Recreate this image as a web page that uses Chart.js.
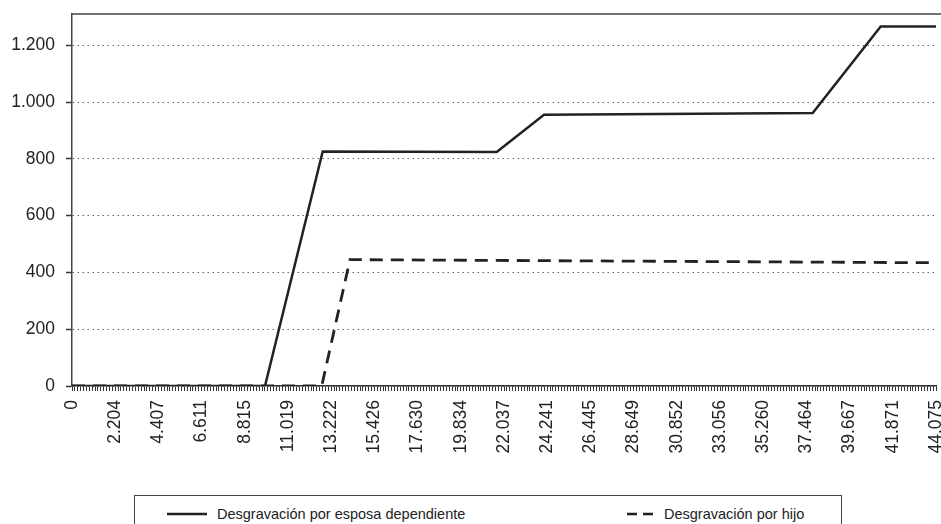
<!DOCTYPE html>
<html lang="es">
<head>
<meta charset="utf-8">
<title>Desgravaciones</title>
<script src="https://cdn.jsdelivr.net/npm/chart.js@4.4.1/dist/chart.umd.min.js"></script>
<style>
    html, body { margin: 0; padding: 0; background: #fff; overflow: hidden; }
    body { width: 941px; height: 524px; position: relative; font-family: "Liberation Sans", Arial, sans-serif; color: #222; }
    #contenedor { position: absolute; left: 0; top: 0; width: 941px; height: 470px; }
    #leyenda { position: absolute; left: 134px; top: 495px; width: 708px; height: 40px; border: 1px solid #444; box-sizing: border-box; }
    .item { position: absolute; top: 9px; display: flex; align-items: center; font-size: 14.5px; line-height: 18px; white-space: nowrap; }
    .item svg { margin-right: 10px; }
</style>
</head>
<body>
<div id="contenedor"><canvas id="grafico"></canvas></div>
<div id="leyenda"></div>

<script>
// ── Datos ──
const etiquetasSeries = ['Desgravación por esposa dependiente', 'Desgravación por hijo'];

// Desgravación por esposa dependiente
const xEsposa = [0, 9845, 12789, 21665, 24078, 37785, 41254, 44075];
const yEsposa = [0, 0, 826, 824, 955, 961, 1266, 1266];

// Desgravación por hijo
const xHijo = [0, 12738, 14181, 44075];
const yHijo = [0, 0, 445, 434];

// Ejes
const xMax = 44075;
const xMarcas = 300;          // marcas menores del eje X
const xCadaEtiqueta = 15;     // una etiqueta cada 15 marcas
const xEtiquetas = ['0', '2.204', '4.407', '6.611', '8.815', '11.019', '13.222', '15.426', '17.630', '19.834',
    '22.037', '24.241', '26.445', '28.649', '30.852', '33.056', '35.260', '37.464', '39.667', '41.871', '44.075'];
const yValores = [0, 200, 400, 600, 800, 1000, 1200];
const yEtiquetas = ['0', '200', '400', '600', '800', '1.000', '1.200'];
const yMax = 1310;

const FUENTE = { family: '"Liberation Sans", Arial, sans-serif', size: 17.5 };
const NEGRO = '#222';

function puntos(xs, ys) {
    return xs.map((x, i) => ({ x, y: ys[i] }));
}

// ── Línea superior del marco ──
const bordeSuperior = {
    id: 'bordeSuperior',
    afterDraw(chart) {
        const { ctx, chartArea } = chart;
        ctx.save();
        ctx.strokeStyle = '#444';
        ctx.lineWidth = 1.5;
        ctx.beginPath();
        ctx.moveTo(chartArea.left, chartArea.top);
        ctx.lineTo(chart.width, chartArea.top);
        ctx.stroke();
        ctx.restore();
    },
};

new Chart(document.getElementById('grafico').getContext('2d'), {
    type: 'line',
    data: {
        datasets: [
            {
                label: etiquetasSeries[0],
                data: puntos(xEsposa, yEsposa),
                borderColor: NEGRO,
                borderWidth: 2.5,
                pointRadius: 0,
                tension: 0,
            },
            {
                label: etiquetasSeries[1],
                data: puntos(xHijo, yHijo),
                borderColor: NEGRO,
                borderWidth: 2.8,
                borderDash: [13, 8],
                pointRadius: 0,
                tension: 0,
            },
        ],
    },
    options: {
        responsive: true,
        maintainAspectRatio: false,
        animation: false,
        devicePixelRatio: 1,
        layout: { padding: { top: 14, right: 5, left: 0, bottom: 0 } },
        plugins: { legend: { display: false }, tooltip: { enabled: false } },
        scales: {
            x: {
                type: 'linear',
                min: 0,
                max: xMax,
                afterBuildTicks(scale) {
                    scale.ticks = Array.from({ length: xMarcas + 1 }, (_, i) => ({ value: i * xMax / xMarcas }));
                },
                afterFit(scale) {
                    scale.paddingLeft = 0;
                    scale.paddingRight = 0;
                    scale.height = 84;
                },
                ticks: {
                    autoSkip: false,
                    minRotation: 90,
                    maxRotation: 90,
                    padding: 9,
                    color: NEGRO,
                    font: FUENTE,
                    callback: (valor, indice) => indice % xCadaEtiqueta === 0 ? xEtiquetas[indice / xCadaEtiqueta] : '',
                },
                grid: {
                    drawOnChartArea: false,
                    drawTicks: true,
                    tickLength: 5,
                    tickColor: '#333',
                    tickWidth: 1,
                },
                border: { color: '#333', width: 1.5 },
            },
            y: {
                min: 0,
                max: yMax,
                afterBuildTicks(scale) {
                    scale.ticks = yValores.map(v => ({ value: v }));
                },
                afterFit(scale) {
                    scale.width = 72;
                    scale.paddingTop = 0;
                    scale.paddingBottom = 0;
                },
                ticks: {
                    padding: 11,
                    color: NEGRO,
                    font: FUENTE,
                    callback: (valor, indice) => yEtiquetas[indice],
                },
                grid: {
                    color: '#666',
                    lineWidth: 1,
                    drawTicks: true,
                    tickLength: 6,
                    tickColor: '#333',
                    tickWidth: 1.5,
                },
                border: { color: '#444', width: 1.5, dash: [1.5, 3.5] },
            },
        },
    },
    plugins: [bordeSuperior],
});

// ── Leyenda en HTML (recuadro inferior) ──
const posicionesLeyenda = [32, 492];
const trazos = ['', '10 6'];
document.getElementById('leyenda').innerHTML = etiquetasSeries.map((txt, i) => `
    <div class="item" style="left:${posicionesLeyenda[i]}px">
        <svg width="${i === 0 ? 40 : 27}" height="4"><line x1="0" y1="2" x2="${i === 0 ? 40 : 27}" y2="2"
            stroke="${NEGRO}" stroke-width="2.5" stroke-dasharray="${trazos[i]}"/></svg>${txt}
    </div>`).join('');
</script>
</body>
</html>
